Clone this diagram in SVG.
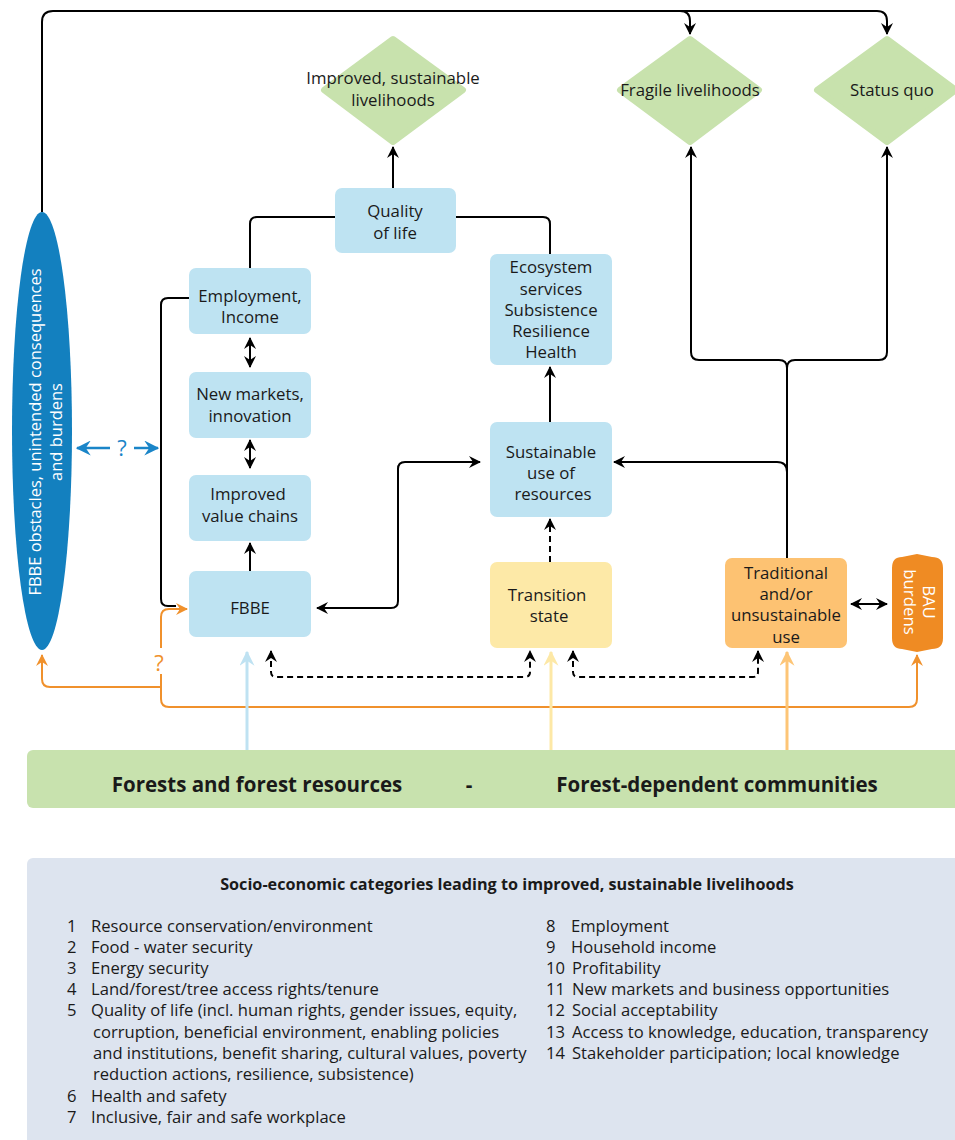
<svg xmlns="http://www.w3.org/2000/svg" width="955" height="1140" viewBox="0 0 955 1140">
<style>
text{font-family:"Open Sans","Noto Sans","Liberation Sans",sans-serif;fill:#1a1a1a}
.t{font-size:16.8px;text-anchor:middle}
.e{font-size:16.5px;text-anchor:middle}
.w{fill:#fff}
.box{fill:#bee3f2}
.dia{fill:#c8e2ad;stroke:#c8e2ad;stroke-width:6;stroke-linejoin:round}
.k{fill:none;stroke:#000;stroke-width:2}
.d{fill:none;stroke:#000;stroke-width:2;stroke-dasharray:6 4}
.o{fill:none;stroke:#f0912c;stroke-width:2}
.b{fill:none;stroke:#1a85c8;stroke-width:2.5}
.leg{font-size:16.6px}
.q{font-size:22px;text-anchor:middle}
</style>
<defs>
<marker id="ak" viewBox="0 0 12 12" refX="11" refY="6" markerWidth="12" markerHeight="12" markerUnits="userSpaceOnUse" orient="auto-start-reverse"><path d="M0,0 L12,6 L0,12 L4,6 Z" fill="#000"/></marker>
<marker id="ao" viewBox="0 0 12 12" refX="11" refY="6" markerWidth="12" markerHeight="12" markerUnits="userSpaceOnUse" orient="auto-start-reverse"><path d="M0,0 L12,6 L0,12 L4,6 Z" fill="#f0912c"/></marker>
<marker id="ab" viewBox="0 0 12 12" refX="11" refY="6" markerWidth="15" markerHeight="15" markerUnits="userSpaceOnUse" orient="auto-start-reverse"><path d="M0,0 L12,6 L0,12 L4,6 Z" fill="#1a85c8"/></marker>
<marker id="alb" viewBox="0 0 12 12" refX="11" refY="6" markerWidth="15" markerHeight="15" markerUnits="userSpaceOnUse" orient="auto-start-reverse"><path d="M0,0 L12,6 L0,12 L4,6 Z" fill="#bfe2f2"/></marker>
<marker id="aly" viewBox="0 0 12 12" refX="11" refY="6" markerWidth="15" markerHeight="15" markerUnits="userSpaceOnUse" orient="auto-start-reverse"><path d="M0,0 L12,6 L0,12 L4,6 Z" fill="#fde8a6"/></marker>
<marker id="alo" viewBox="0 0 12 12" refX="11" refY="6" markerWidth="15" markerHeight="15" markerUnits="userSpaceOnUse" orient="auto-start-reverse"><path d="M0,0 L12,6 L0,12 L4,6 Z" fill="#fdc576"/></marker>
</defs>

<g id="connectors">
<path class="k" d="M42,212 V22 Q42,11 53,11 H680 Q690,11 690,21 V34" marker-end="url(#ak)"/>
<path class="k" d="M680,11 H877 Q887,11 887,21 V34" marker-end="url(#ak)"/>
<path class="k" d="M393,188 V147" marker-end="url(#ak)"/>
<path class="k" d="M335,217 H257 Q250,217 250,224 V268"/>
<path class="k" d="M455,217 H543 Q550,217 550,224 V254"/>
<path class="k" d="M250,338 V367" marker-start="url(#ak)" marker-end="url(#ak)"/>
<path class="k" d="M250,440 V468" marker-start="url(#ak)" marker-end="url(#ak)"/>
<path class="k" d="M250,572 V543" marker-end="url(#ak)"/>
<path class="k" d="M189,298 H168 Q161,298 161,305 V599 Q161,606 168,606 H176"/>
<path class="k" d="M317,608 H391 Q398,608 398,601 V469 Q398,462 405,462 H480" marker-start="url(#ak)" marker-end="url(#ak)"/>
<path class="k" d="M550,422 V367" marker-end="url(#ak)"/>
<path class="d" d="M550,562 V519" marker-end="url(#ak)"/>
<path class="k" d="M787,558 V368 Q787,360 779,360 H699 Q691,360 691,352 V147" marker-end="url(#ak)"/>
<path class="k" d="M787,368 Q787,360 795,360 H879 Q887,360 887,352 V147" marker-end="url(#ak)"/>
<path class="k" d="M787,485 V472 Q787,462 777,462 H614" marker-end="url(#ak)"/>
<path class="k" d="M851,604 H887" marker-start="url(#ak)" marker-end="url(#ak)"/>
<path class="d" d="M271,651 V672 Q271,677 276,677 H525 Q530,677 530,672 V651" marker-start="url(#ak)" marker-end="url(#ak)"/>
<path class="d" d="M573,651 V672 Q573,677 578,677 H753 Q758,677 758,672 V651" marker-start="url(#ak)" marker-end="url(#ak)"/>
<path class="o" d="M161,648 V617 Q161,609 169,609 H187" marker-end="url(#ao)"/>
<path class="o" d="M161,674 V699 Q161,707 169,707 H909 Q917,707 917,699 V655" marker-end="url(#ao)"/>
<path class="o" d="M161,687 H50 Q42,687 42,679 V655" marker-end="url(#ao)"/>
<text class="q" x="159" y="671" style="fill:#f0912c">?</text>
<path class="b" d="M110,448 H77" marker-end="url(#ab)"/>
<path class="b" d="M134,448 H158" marker-end="url(#ab)"/>
<text class="q" x="122" y="456" style="fill:#1a85c8">?</text>
<path d="M247,750 V652" stroke="#bfe2f2" stroke-width="3" fill="none" marker-end="url(#alb)"/>
<path d="M551,750 V652" stroke="#fde8a6" stroke-width="3" fill="none" marker-end="url(#aly)"/>
<path d="M787,750 V652" stroke="#fdc576" stroke-width="3" fill="none" marker-end="url(#alo)"/>
</g>

<g id="obstacles">
<ellipse cx="42" cy="431" rx="30" ry="219" fill="#1380bf"/>
<g transform="translate(0,432) rotate(-90)">
<text class="e w" x="0" y="41">FBBE obstacles, unintended consequences</text>
<text class="e w" x="0" y="62">and burdens</text>
</g>
</g>

<g id="improved">
<path class="dia" d="M393,39 L463,90 L393,142 L324,90 Z"/>
<text class="t" x="393" y="84">Improved, sustainable</text>
<text class="t" x="393" y="106">livelihoods</text>
</g>
<g id="fragile">
<path class="dia" d="M690,39 L759,90 L690,142 L620,90 Z"/>
<text class="t" x="690" y="96">Fragile livelihoods</text>
</g>
<g id="statusquo">
<path class="dia" d="M887,39 L956,90 L887,142 L817,90 Z"/>
<text class="t" x="892" y="96">Status quo</text>
</g>

<g id="quality">
<rect class="box" x="335" y="188" width="121" height="65" rx="7"/>
<text class="t" x="395" y="217">Quality</text>
<text class="t" x="395" y="239">of life</text>
</g>
<g id="employment">
<rect class="box" x="189" y="268" width="122" height="66" rx="7"/>
<text class="t" x="250" y="302">Employment,</text>
<text class="t" x="250" y="323">Income</text>
</g>
<g id="newmarkets">
<rect class="box" x="189" y="372" width="122" height="66" rx="7"/>
<text class="t" x="250" y="400">New markets,</text>
<text class="t" x="250" y="422">innovation</text>
</g>
<g id="valuechains">
<rect class="box" x="189" y="475" width="122" height="66" rx="7"/>
<text class="t" x="248" y="500">Improved</text>
<text class="t" x="250" y="522">value chains</text>
</g>
<g id="fbbe">
<rect class="box" x="189" y="571" width="122" height="66" rx="7"/>
<text class="t" x="250" y="614">FBBE</text>
</g>
<g id="ecosystem">
<rect class="box" x="490" y="254" width="122" height="111" rx="7"/>
<text class="t" x="551" y="273">Ecosystem</text>
<text class="t" x="551" y="295">services</text>
<text class="t" x="551" y="316">Subsistence</text>
<text class="t" x="551" y="337">Resilience</text>
<text class="t" x="551" y="358">Health</text>
</g>
<g id="sustainable">
<rect class="box" x="490" y="422" width="122" height="95" rx="7"/>
<text class="t" x="551" y="458">Sustainable</text>
<text class="t" x="551" y="479">use of</text>
<text class="t" x="553" y="500">resources</text>
</g>
<g id="transition">
<rect x="490" y="562" width="122" height="86" rx="7" fill="#fde9a7"/>
<text class="t" x="547" y="601">Transition</text>
<text class="t" x="549" y="622">state</text>
</g>
<g id="traditional">
<rect x="725" y="558" width="122" height="90" rx="7" fill="#fdc272"/>
<text class="t" x="786" y="579">Traditional</text>
<text class="t" x="786" y="600">and/or</text>
<text class="t" x="786" y="621">unsustainable</text>
<text class="t" x="786" y="643">use</text>
</g>
<g id="bau">
<path d="M902,557 L917,554 L932,557 Q943,557 943,568 V638 Q943,649 932,649 L917,652 L902,649 Q892,649 892,638 V568 Q892,557 902,557 Z" fill="#ef8b23"/>
<g transform="translate(917,602) rotate(90)">
<text class="t w" x="0" y="-6">BAU</text>
<text class="t w" x="0" y="13">burdens</text>
</g>
</g>

<g id="forests">
<rect x="27" y="750" width="940" height="58" rx="6" fill="#c8e2ae"/>
<text x="257" y="792" style="font-size:20.5px;font-weight:bold;text-anchor:middle">Forests and forest resources</text>
<text x="469" y="792" style="font-size:20.5px;font-weight:bold;text-anchor:middle">-</text>
<text x="717" y="792" style="font-size:20.5px;font-weight:bold;text-anchor:middle">Forest-dependent communities</text>
</g>

<g id="legend">
<rect x="27" y="858" width="940" height="300" rx="6" fill="#dde4ef"/>
<text x="507" y="890" style="font-size:16.2px;font-weight:bold;text-anchor:middle">Socio-economic categories leading to improved, sustainable livelihoods</text>
<g class="leg">
<text x="67" y="932">1</text><text x="91" y="932">Resource conservation/environment</text>
<text x="67" y="953">2</text><text x="91" y="953">Food - water security</text>
<text x="67" y="974">3</text><text x="91" y="974">Energy security</text>
<text x="67" y="995">4</text><text x="91" y="995">Land/forest/tree access rights/tenure</text>
<text x="67" y="1016">5</text><text x="91" y="1016">Quality of life (incl. human rights, gender issues, equity,</text>
<text x="93" y="1038">corruption, beneficial environment, enabling policies</text>
<text x="93" y="1059">and institutions, benefit sharing, cultural values, poverty</text>
<text x="93" y="1080">reduction actions, resilience, subsistence)</text>
<text x="67" y="1102">6</text><text x="91" y="1102">Health and safety</text>
<text x="67" y="1123">7</text><text x="91" y="1123">Inclusive, fair and safe workplace</text>
<text x="546" y="932">8</text><text x="571" y="932">Employment</text>
<text x="546" y="953">9</text><text x="571" y="953">Household income</text>
<text x="546" y="974">10</text><text x="572" y="974">Profitability</text>
<text x="546" y="995">11</text><text x="572" y="995">New markets and business opportunities</text>
<text x="546" y="1016">12</text><text x="572" y="1016">Social acceptability</text>
<text x="546" y="1038">13</text><text x="572" y="1038">Access to knowledge, education, transparency</text>
<text x="546" y="1059">14</text><text x="572" y="1059">Stakeholder participation; local knowledge</text>
</g>
</g>
</svg>
